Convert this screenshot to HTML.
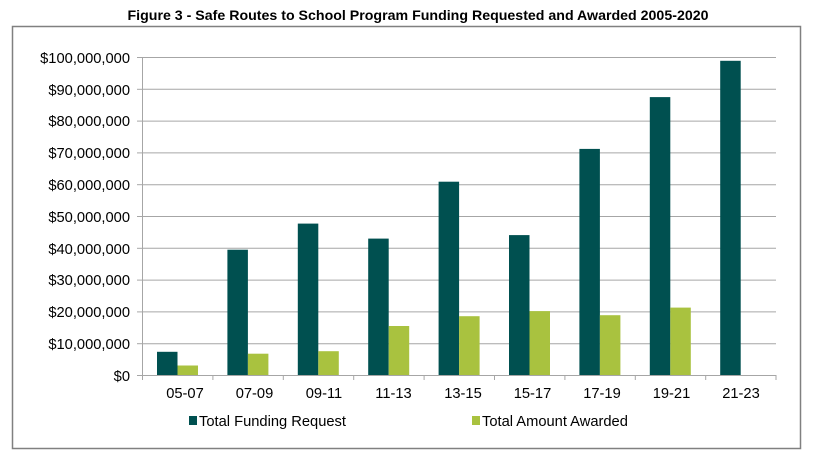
<!DOCTYPE html>
<html><head><meta charset="utf-8"><style>
body{margin:0;background:#fff;width:813px;height:456px;overflow:hidden}
svg{display:block}
text{font-family:"Liberation Sans",sans-serif;fill:#000}
</style></head><body>
<svg width="813" height="456" xmlns="http://www.w3.org/2000/svg">
<text x="418" y="20" text-anchor="middle" font-weight="bold" font-size="14" textLength="581" lengthAdjust="spacingAndGlyphs">Figure 3 - Safe Routes to School Program Funding Requested and Awarded 2005-2020</text>
<rect x="12.5" y="26.5" width="788" height="422" fill="#fff" stroke="#808080" stroke-width="1.5"/>
<g stroke="#a6a6a6" stroke-width="1">
<line x1="142" x2="776" y1="57.5" y2="57.5"/><line x1="142" x2="776" y1="89.3" y2="89.3"/><line x1="142" x2="776" y1="121.1" y2="121.1"/><line x1="142" x2="776" y1="152.9" y2="152.9"/><line x1="142" x2="776" y1="184.7" y2="184.7"/><line x1="142" x2="776" y1="216.5" y2="216.5"/><line x1="142" x2="776" y1="248.3" y2="248.3"/><line x1="142" x2="776" y1="280.1" y2="280.1"/><line x1="142" x2="776" y1="311.9" y2="311.9"/><line x1="142" x2="776" y1="343.7" y2="343.7"/>
<line x1="142.5" x2="142.5" y1="57" y2="375"/>
<line x1="137" x2="776" y1="375.5" y2="375.5"/>
</g>
<g stroke="#a6a6a6"><line x1="137" x2="142" y1="57.5" y2="57.5"/><line x1="137" x2="142" y1="89.3" y2="89.3"/><line x1="137" x2="142" y1="121.1" y2="121.1"/><line x1="137" x2="142" y1="152.9" y2="152.9"/><line x1="137" x2="142" y1="184.7" y2="184.7"/><line x1="137" x2="142" y1="216.5" y2="216.5"/><line x1="137" x2="142" y1="248.3" y2="248.3"/><line x1="137" x2="142" y1="280.1" y2="280.1"/><line x1="137" x2="142" y1="311.9" y2="311.9"/><line x1="137" x2="142" y1="343.7" y2="343.7"/>
<line x1="142.5" x2="142.5" y1="375" y2="380"/><line x1="212.9" x2="212.9" y1="375" y2="380"/><line x1="283.3" x2="283.3" y1="375" y2="380"/><line x1="353.7" x2="353.7" y1="375" y2="380"/><line x1="424.1" x2="424.1" y1="375" y2="380"/><line x1="494.5" x2="494.5" y1="375" y2="380"/><line x1="564.9" x2="564.9" y1="375" y2="380"/><line x1="635.3" x2="635.3" y1="375" y2="380"/><line x1="705.7" x2="705.7" y1="375" y2="380"/><line x1="776" x2="776" y1="375" y2="380"/></g>
<g font-size="14.7" text-anchor="end">
<text x="130" y="63">$100,000,000</text><text x="130" y="95">$90,000,000</text><text x="130" y="126">$80,000,000</text><text x="130" y="158">$70,000,000</text><text x="130" y="190">$60,000,000</text><text x="130" y="222">$50,000,000</text><text x="130" y="254">$40,000,000</text><text x="130" y="285">$30,000,000</text><text x="130" y="317">$20,000,000</text><text x="130" y="349">$10,000,000</text><text x="130" y="381">$0</text>
</g>
<g fill="#005050">
<rect x="157" y="351.8" width="20.5" height="23.2"/>
<rect x="227.4" y="249.7" width="20.5" height="125.3"/>
<rect x="297.8" y="223.6" width="20.5" height="151.4"/>
<rect x="368.2" y="238.6" width="20.5" height="136.4"/>
<rect x="438.6" y="181.7" width="20.5" height="193.3"/>
<rect x="509" y="235.1" width="20.5" height="139.9"/>
<rect x="579.4" y="148.9" width="20.5" height="226.1"/>
<rect x="649.8" y="97.1" width="20.5" height="277.9"/>
<rect x="720.2" y="60.8" width="20.5" height="314.2"/>
</g>
<g fill="#a9c23f">
<rect x="177.5" y="365.5" width="20.5" height="9.5"/>
<rect x="247.9" y="353.7" width="20.5" height="21.3"/>
<rect x="318.3" y="351.2" width="20.5" height="23.8"/>
<rect x="388.7" y="326" width="20.5" height="49"/>
<rect x="459.1" y="316.2" width="20.5" height="58.8"/>
<rect x="529.5" y="311.1" width="20.5" height="63.9"/>
<rect x="599.9" y="315.2" width="20.5" height="59.8"/>
<rect x="670.3" y="307.6" width="20.5" height="67.4"/>
</g>
<g font-size="14.7" text-anchor="middle">
<text x="185" y="398">05-07</text><text x="254.5" y="398">07-09</text><text x="324" y="398">09-11</text><text x="393.5" y="398">11-13</text><text x="463" y="398">13-15</text><text x="532.5" y="398">15-17</text><text x="602" y="398">17-19</text><text x="671.5" y="398">19-21</text><text x="741" y="398">21-23</text>
</g>
<rect x="189" y="416" width="8" height="9" fill="#005050"/>
<text x="199" y="426" font-size="14.7">Total Funding Request</text>
<rect x="472" y="416" width="8" height="9" fill="#a9c23f"/>
<text x="482" y="426" font-size="14.7">Total Amount Awarded</text>
</svg>
</body></html>
